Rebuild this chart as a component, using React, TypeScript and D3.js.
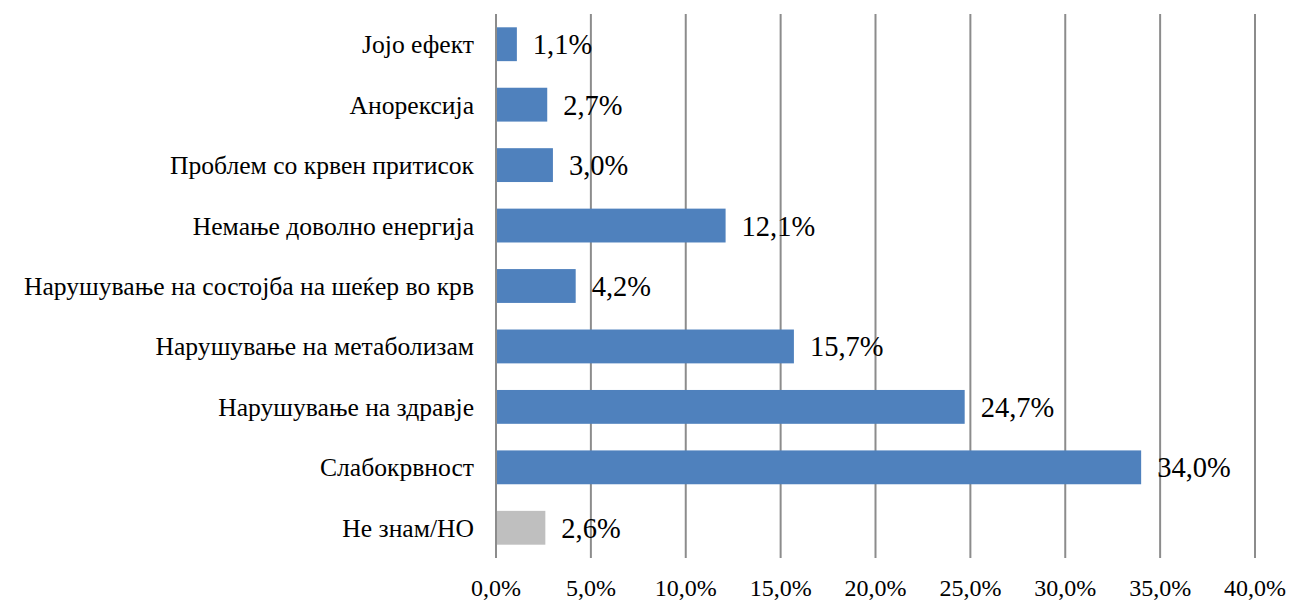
import * as d3 from "d3";

const categories = [
  "Јојо ефект",
  "Анорексија",
  "Проблем со крвен притисок",
  "Немање доволно енергија",
  "Нарушување на состојба на шеќер во крв",
  "Нарушување на метаболизам",
  "Нарушување на здравје",
  "Слабокрвност",
  "Не знам/НО",
];
const values = [1.1, 2.7, 3.0, 12.1, 4.2, 15.7, 24.7, 34.0, 2.6];
const barColors = ["#4F81BD", "#4F81BD", "#4F81BD", "#4F81BD", "#4F81BD", "#4F81BD", "#4F81BD", "#4F81BD", "#BFBFBF"];
const ticks = [0, 5, 10, 15, 20, 25, 30, 35, 40];

const W = 1292;
const H = 600;
const FONT = "'Liberation Serif', 'Times New Roman', serif";

const fmt = (v: number) => v.toFixed(1).replace(".", ",") + "%";

export default function App() {
  const x = d3.scaleLinear().domain([0, 40]).range([496, 1255]);
  const y = d3.scaleBand().domain(categories).range([14, 558]).paddingInner(0.44).paddingOuter(0.22);

  return (
    <svg width={W} height={H} style={{ position: "absolute", left: 0, top: 0, background: "#fff" }}>
      {ticks.map((t) => (
        <g key={t}>
          <line x1={x(t)} x2={x(t)} y1={14} y2={558} stroke="#8C8C8C" strokeWidth={2} />
          <text x={x(t)} y={596} textAnchor="middle" fontFamily={FONT} fontSize={24} fill="#000">
            {fmt(t)}
          </text>
        </g>
      ))}
      {categories.map((c, i) => {
        const yc = (y(c) ?? 0) + y.bandwidth() / 2;
        return (
          <g key={c}>
            <rect
              x={x(0) + 1}
              y={y(c)}
              width={x(values[i]) - x(0) - 1}
              height={y.bandwidth()}
              fill={barColors[i]}
            />
            <text x={474} y={yc} dy="0.35em" textAnchor="end" fontFamily={FONT} fontSize={25.6} fill="#000">
              {c}
            </text>
            <text x={x(values[i]) + 16} y={yc} dy="0.35em" fontFamily={FONT} fontSize={28.5} fill="#000">
              {fmt(values[i])}
            </text>
          </g>
        );
      })}
    </svg>
  );
}
